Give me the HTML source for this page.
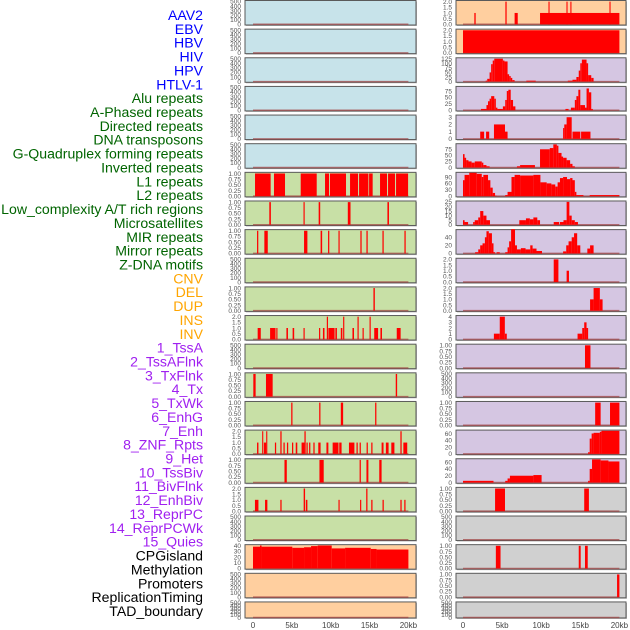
<!DOCTYPE html>
<html><head><meta charset="utf-8">
<style>
html,body{margin:0;padding:0;background:#fff;}
svg{display:block;font-family:"Liberation Sans",sans-serif;}
</style></head>
<body>
<svg id="chart" width="630" height="630" viewBox="0 0 630 630" xmlns="http://www.w3.org/2000/svg"></svg>
<script>
// ---- row labels ----
const rowLabels = ["AAV2","EBV","HBV","HIV","HPV","HTLV-1","Alu repeats","A-Phased repeats","Directed repeats","DNA transposons","G-Quadruplex forming repeats","Inverted repeats","L1 repeats","L2 repeats","Low_complexity A/T rich regions","Microsatellites","MIR repeats","Mirror repeats","Z-DNA motifs","CNV","DEL","DUP","INS","INV","1_TssA","2_TssAFlnk","3_TxFlnk","4_Tx","5_TxWk","6_EnhG","7_Enh","8_ZNF_Rpts","9_Het","10_TssBiv","11_BivFlnk","12_EnhBiv","13_ReprPC","14_ReprPCWk","15_Quies","CPGisland","Methylation","Promoters","ReplicationTiming","TAD_boundary"];
const rowLabelGroups = [6,13,5,15,5];
const groupColors = ["#0000ff","#006400","#ffa500","#a020f0","#000000"];

// ---- x axis ----
const xTickValues = [0,5,10,15,20];
const xTickLabels = ["0","5kb","10kb","15kb","20kb"];

// ---- tick sets ----
const tEmpty = [0,100,200,300,400,500];
const lEmpty = ["0","100","200","300","400","500"];
const tBin = [0,0.25,0.5,0.75,1];
const lBin = ["0.00","0.25","0.50","0.75","1.00"];
const tTwo = [0,0.5,1,1.5,2];
const lTwo = ["0.0","0.5","1.0","1.5","2.0"];

// ---- left column data: [startKb, endKb, value] ----
const L6 = [[0.26,2.27,1],[2.7,4.12,1],[6.14,8.2,1],[9.27,9.79,1],[9.91,11.97,1],[12.49,13.52,1],[13.65,14.85,1],[14.94,15.4,1],[16.35,17.25,1],[17.38,18.28,1],[18.41,19.96,1]];
const L7 = [[2.1,2.3,1],[6.5,6.65,1],[8.45,8.65,1],[12.2,12.55,1],[17.3,17.5,1]];
const L8 = [[0.52,0.68,1],[1.46,1.9,1],[6.57,7.0,1],[8.7,8.9,1],[9.66,9.82,1],[11.0,11.15,1],[13.82,13.98,1],[14.6,14.76,1],[16.66,16.82,1],[19.49,19.65,1]];
const L10 = [[15.5,15.68,1]];
const L11 = [[0.6,1.0,1],[2.2,2.9,1],[3.0,3.15,1],[4.3,4.5,1],[5.1,5.3,1],[6.5,6.65,1],[8.5,8.65,1],[9.0,9.2,1],[9.5,9.65,2],[9.7,10.5,1],[10.6,10.8,1],[11.3,11.5,1],[11.6,11.75,2],[12.8,13.0,1],[13.45,13.6,2],[14.1,14.25,1],[15.0,15.15,2],[15.6,16.1,1],[16.4,16.6,1],[18.5,19.0,1]];
const L13 = [[0.04,0.34,1],[1.67,2.53,1],[18.37,18.55,1]];
const L14 = [[4.92,5.08,1],[8.52,8.68,1],[11.3,11.6,1],[15.72,15.88,1]];
const L15 = [[0.52,0.7,1],[1.18,1.32,2],[1.4,1.7,1],[1.7,1.84,2],[2.82,2.98,1],[3.52,3.68,2],[3.92,4.08,1],[4.37,4.53,1],[5.02,5.18,1],[5.5,5.7,1],[6.25,6.62,1],[6.62,6.78,2],[6.88,7.04,1],[7.22,7.38,1],[7.77,7.93,1],[8.4,8.7,1],[9.45,9.7,1],[10.25,11.0,1],[11.1,11.4,1],[12.35,13.05,1],[13.32,13.48,1],[13.72,13.88,1],[14.62,14.78,1],[15.22,15.38,1],[16.55,16.8,1],[17.1,17.45,1],[17.8,18.2,1],[18.97,19.13,2],[19.35,19.85,1]];
const L16 = [[4.05,4.35,1],[8.55,9.1,1],[13.72,13.88,1],[14.6,14.85,1],[16.25,16.55,1]];
const L17 = [[0.25,0.7,1],[1.55,1.85,1],[3.52,3.68,1],[6.52,6.7,2],[6.8,7.0,1],[11.0,11.15,1],[13.78,13.93,1],[14.57,14.73,2],[15.22,15.38,1],[16.67,16.83,1],[18.97,19.13,1],[19.47,19.63,1]];
const L19 = [[0,0.9,38],[0.9,1.1,40],[1.1,5.06,38],[5.06,6.57,36],[6.57,7.47,37],[7.47,8.33,39],[8.33,10.13,40],[10.13,11.85,35],[11.85,15.15,36],[15.15,15.9,34],[15.9,20,33]];

// ---- right column data ----
const R0 = [[1.45,1.62,1],[5.42,5.58,2],[6.6,7.0,1],[9.85,20,1],[10.93,11.07,2],[13.23,13.37,2],[13.73,13.87,2],[18.73,18.87,2]];
const R1 = [[0,20,2]];
const R2 = [[2.9,3.1,5],[3.1,3.4,15],[3.4,3.6,50],[3.6,3.8,95],[3.8,4.0,115],[4.0,5.1,125],[5.1,5.3,115],[5.3,5.7,110],[5.7,5.9,40],[5.9,6.1,30],[6.1,6.3,20],[6.3,6.6,8],[8.1,9.3,5],[13.4,14.0,5],[14.0,14.5,10],[14.5,14.8,25],[14.8,15.0,60],[15.0,15.2,100],[15.2,15.8,120],[15.8,16.0,100],[16.0,16.4,35],[16.4,16.7,20]];
const R3 = [[2.3,3.0,5],[3.0,3.2,20],[3.2,3.4,35],[3.4,3.6,45],[3.6,4.0,55],[4.0,4.2,45],[4.2,4.4,10],[4.4,5.1,5],[5.1,5.4,15],[5.4,5.6,40],[5.6,5.8,75],[5.8,6.1,80],[6.1,6.4,40],[6.4,6.7,15],[13.1,13.5,5],[13.8,14.3,10],[14.3,14.5,40],[14.5,14.75,55],[14.75,15.0,80],[15.0,15.6,20],[15.6,15.8,10],[15.8,16.1,85],[16.1,16.4,70],[16.4,16.6,5]];
const R4 = [[2.2,2.7,1],[2.95,3.35,1],[3.96,5.37,2],[5.37,5.7,1],[12.8,12.95,1.5],[12.95,13.25,2],[13.25,13.9,3],[14.0,15.0,1],[15.1,16.3,1]];
const R5 = [[0,0.2,55],[0.2,0.4,40],[0.4,0.7,30],[0.7,1.1,25],[1.1,1.5,20],[1.5,2.4,25],[2.4,2.6,20],[2.6,3.0,10],[3.0,3.4,5],[6.9,7.3,5],[7.3,9.2,10],[9.85,11.1,75],[11.1,11.55,80],[11.55,12.0,95],[12.0,12.2,90],[12.2,12.6,60],[12.6,12.8,45],[12.8,13.25,40],[13.25,13.7,30],[13.7,14.0,15],[14.0,14.3,5]];
const R6 = [[0,0.2,75],[0.2,0.8,100],[0.8,1.75,110],[1.75,2.4,105],[2.4,2.6,90],[2.6,3.2,100],[3.2,3.5,75],[3.5,3.8,40],[3.8,4.1,15],[4.1,4.3,2],[5.4,5.7,5],[5.7,6.2,20],[6.2,6.6,90],[6.6,7.3,100],[7.3,9.0,97],[9.0,9.9,100],[9.9,10.7,65],[10.7,11.3,60],[11.3,11.8,55],[11.8,12.1,45],[12.1,12.4,65],[12.4,12.8,85],[12.8,13.3,90],[13.3,13.7,80],[13.7,14.0,85],[14.0,14.3,75],[14.3,14.5,20],[14.5,15.4,5],[16.2,20,5]];
const R7 = [[0,0.2,5],[0.2,0.65,3],[1.3,1.5,3],[1.5,1.95,5],[1.95,2.2,8],[2.2,2.6,15],[2.6,3.0,10],[3.0,3.45,5],[7.2,8.05,5],[8.05,8.55,7],[8.55,9.0,6],[9.0,9.5,8],[9.5,9.85,5],[11.6,12.3,3],[12.4,12.85,3],[12.85,13.25,5],[13.25,13.6,25],[13.6,13.9,10],[13.9,14.3,5],[14.3,14.7,3]];
const R8 = [[1.55,1.95,3],[1.95,2.2,10],[2.2,2.5,20],[2.5,2.8,25],[2.8,3.0,40],[3.0,3.3,55],[3.3,3.7,50],[3.7,3.9,25],[3.9,4.1,3],[4.3,4.7,3],[5.4,5.7,3],[5.7,5.9,15],[5.9,6.15,30],[6.15,6.65,60],[6.65,6.9,20],[6.9,7.4,10],[7.4,8.0,13],[8.0,8.6,10],[8.6,8.9,20],[8.9,9.4,12],[9.4,10.1,6],[12.8,13.2,5],[13.2,13.5,20],[13.5,13.9,30],[13.9,14.2,40],[14.2,14.6,50],[14.6,15.0,20],[15.9,16.25,12],[16.25,16.7,20]];
const R9 = [[11.6,12.2,2],[13.25,13.55,1]];
const R10 = [[16.25,16.7,1],[16.7,17.5,2],[17.5,17.85,1]];
const R11 = [[3.95,4.7,1],[4.7,5.35,4],[5.35,5.6,1],[14.65,15.25,1],[15.25,15.5,2],[15.5,15.8,3],[15.8,16.0,2]];
const R12 = [[15.6,16.3,1]];
const R14 = [[16.9,17.6,1],[18.8,20.0,1]];
const R15 = [[16.0,16.2,5],[16.2,16.45,45],[16.45,16.7,60],[16.7,17.5,62],[17.5,17.7,65],[17.7,20.0,68]];
const R16 = [[0,3.9,5],[5.4,5.7,5],[5.7,6.0,12],[6.0,9.0,20],[9.0,10.05,22],[16.0,16.2,5],[16.2,16.5,40],[16.5,17.6,68],[17.6,18.6,65],[18.6,20.0,62]];
const R17 = [[4.1,5.37,1],[15.5,16.1,1]];
const R19 = [[4.2,4.8,1],[14.8,15.05,1],[15.6,15.95,1]];
const R20 = [[19.7,20.0,1]];

const BLUE="#c7e3ea", GREEN="#c8e0a6", ORANGE="#ffcf9f", PURPLE="#d5c6e2", GREY="#d0d0d0";
function E(){return {data:[],ticks:tEmpty,labels:lEmpty,max:520};}
function B(d){return {data:d,ticks:tBin,labels:lBin,max:1.05};}
function T(d){return {data:d,ticks:tTwo,labels:lTwo,max:2.1};}
function N(d,t,mx){return {data:d,ticks:t,labels:t.map(String),max:mx};}

const leftPanels = [E(),E(),E(),E(),E(),E(),B(L6),B(L7),B(L8),E(),B(L10),T(L11),E(),B(L13),B(L14),T(L15),B(L16),T(L17),E(),N(L19,[0,10,20,30,40],41.5),E(),E()];
const leftColors = [BLUE,BLUE,BLUE,BLUE,BLUE,BLUE,GREEN,GREEN,GREEN,GREEN,GREEN,GREEN,GREEN,GREEN,GREEN,GREEN,GREEN,GREEN,GREEN,ORANGE,ORANGE,ORANGE];
const rightPanels = [T(R0),T(R1),N(R2,[0,25,50,75,100,125],130),N(R3,[0,25,50,75],93),N(R4,[0,1,2,3],3.3),N(R5,[0,25,50,75],98),N(R6,[0,30,60,90],112),N(R7,[0,5,10,15,20,25],26),N(R8,[0,20,40],59),T(R9),T(R10),N(R11,[0,1,2,3,4],4.2),B(R12),E(),B(R14),N(R15,[0,20,40,60],70),N(R16,[0,20,40,60],70),B(R17),E(),B(R19),B(R20),E()];
const rightColors = [ORANGE,ORANGE,PURPLE,PURPLE,PURPLE,PURPLE,PURPLE,PURPLE,PURPLE,PURPLE,PURPLE,PURPLE,PURPLE,PURPLE,PURPLE,PURPLE,PURPLE,GREY,GREY,GREY,GREY,GREY];

const svg = document.getElementById('chart');
const NS = "http://www.w3.org/2000/svg";
function mk(tag, attrs, parent){const el=document.createElementNS(NS,tag);for(const k in attrs)el.setAttribute(k,attrs[k]);(parent||svg).appendChild(el);return el;}

// row labels
let gi=0, gc=0;
rowLabels.forEach((txt,i)=>{
  const t = mk('text',{x:203,y:20+i*13.86,'text-anchor':'end','font-size':'14.1',fill:groupColors[gi]});
  t.textContent = txt;
  
  
  gc++; if(gc>=rowLabelGroups[gi]){gi++;gc=0;}
});

function drawColumn(panels, colors, px0, px1, x0, pxPerKb, side){
  const xs = kb => x0 + kb*pxPerKb;
  panels.forEach((p,i)=>{
    const top = 0.5 + i*28.64;
    const h = (i===21) ? 16 : 24.5;
    const g = mk('g',{});
    
    
    mk('rect',{x:px0+1,y:top+1,width:px1-px0,height:h,fill:'#bbb'},g);
    mk('rect',{x:px0,y:top,width:px1-px0,height:h,fill:colors[i],stroke:'#5a5a5a','stroke-width':1},g);
    const ymin = -0.03*p.max;
    const ys = v => top+h - (v-ymin)/(p.max-ymin)*h;
    const bl = mk('line',{x1:xs(0),x2:xs(20),y1:ys(0),y2:ys(0),stroke:'#a04040','stroke-opacity':0.7,'stroke-width':1.5},g);
    
    
    p.data.forEach(d=>{
      const r = mk('rect',{x:xs(d[0]),y:ys(d[2]),width:Math.max(1,xs(d[1])-xs(d[0])),height:ys(0)-ys(d[2]),fill:'#ff0000'},g);
      
      
    });
    p.ticks.forEach((tv,k)=>{
      const t = mk('text',{x:px0-4,y:ys(tv)+2.3,'text-anchor':'end','font-size':'6.5',fill:'#555'},g);
      t.textContent = p.labels[k];
      
      
    });
  });
  xTickValues.forEach((v,k)=>{
    const t = mk('text',{x:xs(v),y:628,'text-anchor':'middle','font-size':'8',fill:'#444'});
    t.textContent = xTickLabels[k];
    
    
  });
}
drawColumn(leftPanels, leftColors, 245, 416, 253, 7.77, 'left');
drawColumn(rightPanels, rightColors, 456, 626, 463, 7.82, 'right');
</script>
</body></html>
